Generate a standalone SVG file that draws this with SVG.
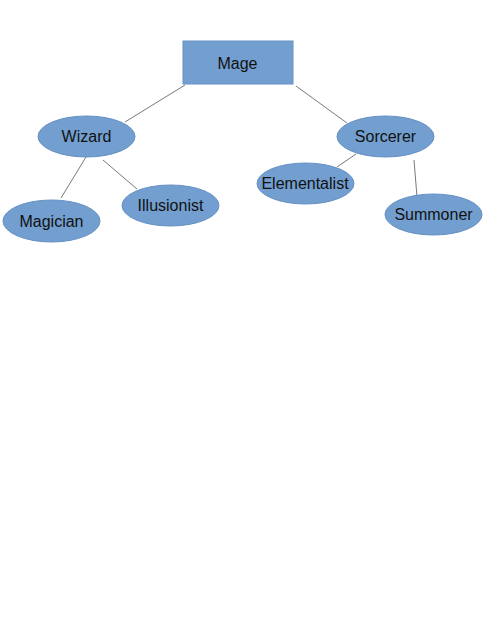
<svg xmlns="http://www.w3.org/2000/svg" width="495" height="640" viewBox="0 0 495 640">
<style>
.n{fill:#729fcf;stroke:#6690c4;stroke-width:1}
.t{font-family:"Liberation Sans",Arial,sans-serif;font-size:16px;fill:#111;text-anchor:middle;dominant-baseline:central}
.c line{stroke:#555;stroke-width:0.8}
</style>
<rect width="495" height="640" fill="#fff"/>
<g class="c" id="connectors">
<line x1="185" y1="85" x2="125" y2="122"/>
<line x1="296" y1="86" x2="347" y2="123"/>
<line x1="86" y1="157" x2="61" y2="198"/>
<line x1="103" y1="160" x2="137" y2="189"/>
<line x1="356" y1="154" x2="337" y2="167"/>
<line x1="414" y1="160" x2="417" y2="197"/>
</g>
<g id="mage"><rect class="n" x="183" y="41" width="110" height="43"/><text class="t" x="237.5" y="63">Mage</text></g>
<g id="wizard"><ellipse class="n" cx="86.5" cy="136.5" rx="48.5" ry="20.5"/><text class="t" x="86.5" y="136">Wizard</text></g>
<g id="sorcerer"><ellipse class="n" cx="385.5" cy="136.5" rx="48.5" ry="20.5"/><text class="t" x="385.5" y="136">Sorcerer</text></g>
<g id="magician"><ellipse class="n" cx="51.5" cy="221" rx="48.5" ry="21"/><text class="t" x="51.5" y="221">Magician</text></g>
<g id="illusionist"><ellipse class="n" cx="170.5" cy="205.5" rx="48.5" ry="20.5"/><text class="t" x="170.5" y="205">Illusionist</text></g>
<g id="elementalist"><ellipse class="n" cx="305.5" cy="183.5" rx="48.5" ry="20.5"/><text class="t" x="305" y="183">Elementalist</text></g>
<g id="summoner"><ellipse class="n" cx="433.5" cy="214.5" rx="48.5" ry="20.5"/><text class="t" x="433.5" y="214">Summoner</text></g>
</svg>
